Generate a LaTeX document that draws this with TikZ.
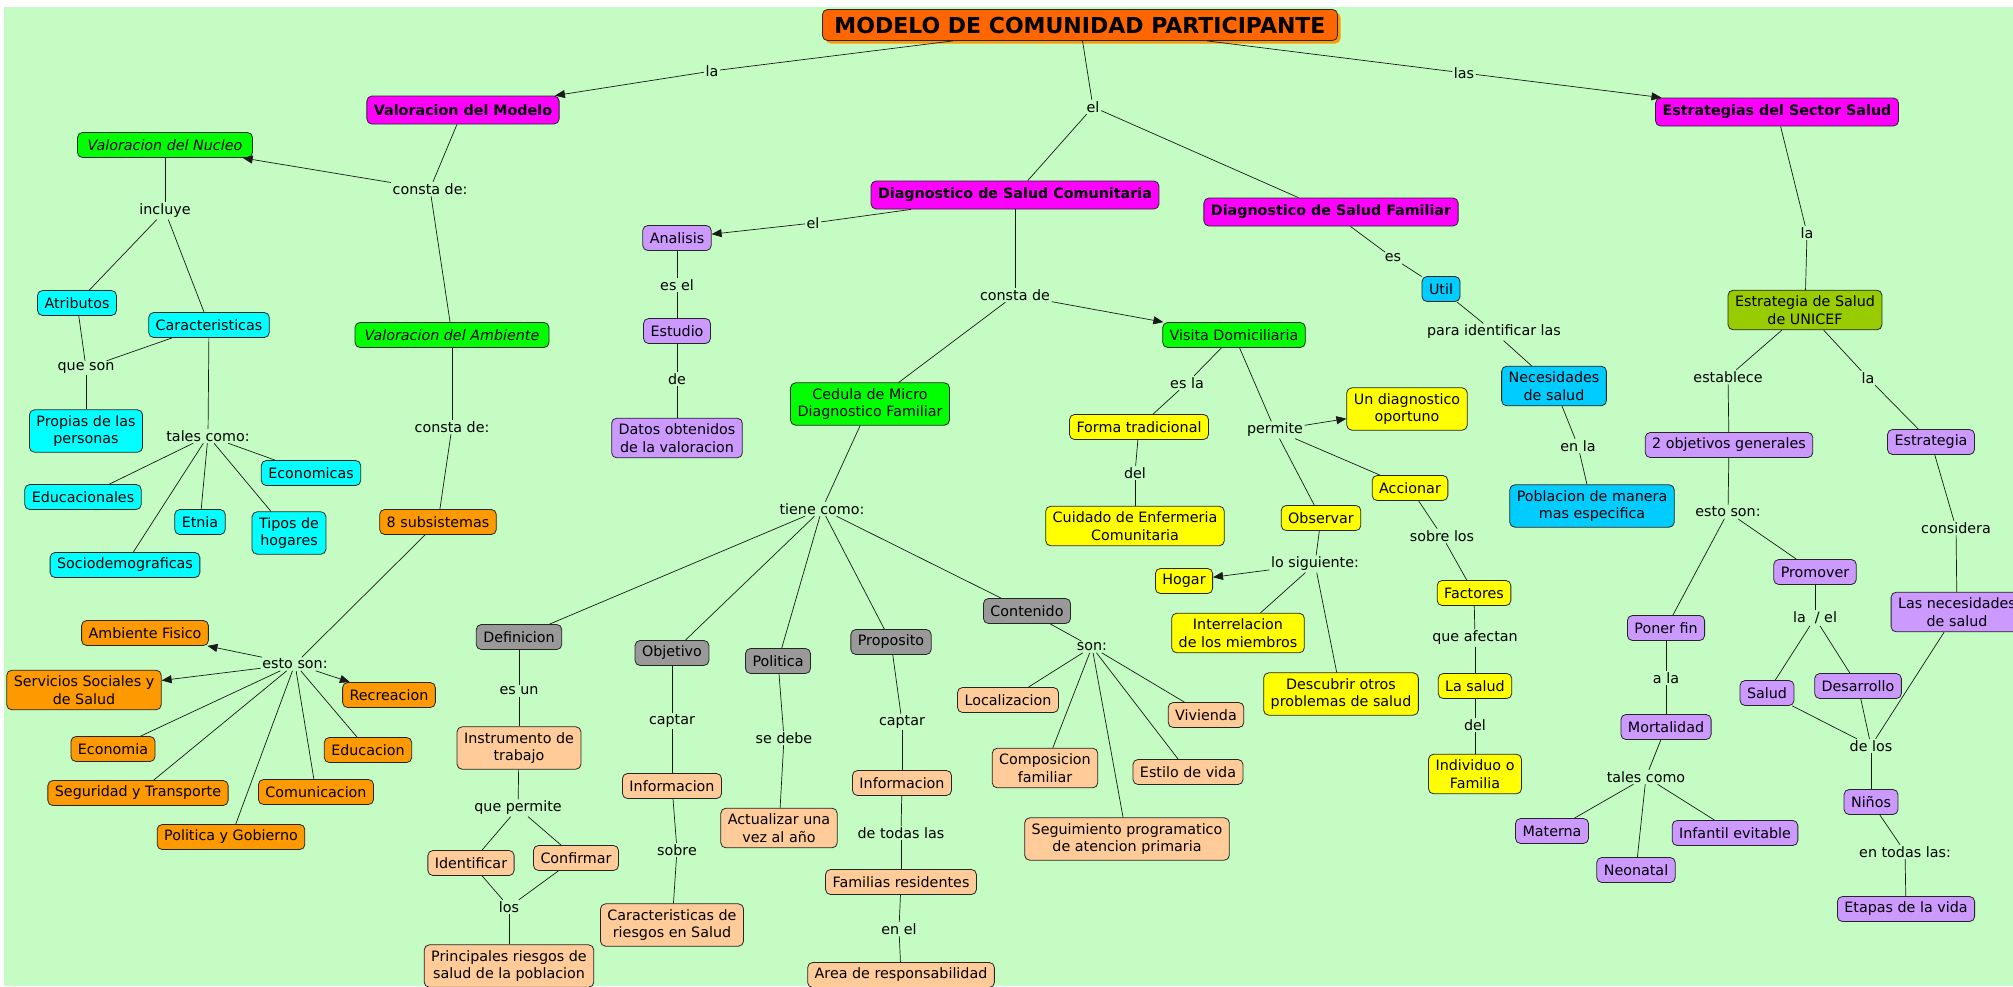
\documentclass[tikz,border=0pt]{standalone}
\usepackage{fontspec}
\setmainfont{DejaVu Sans}
\usetikzlibrary{arrows.meta,shadows}
\definecolor{bgc}{RGB}{196,252,196}
\definecolor{cmag}{RGB}{255,0,255}
\definecolor{cgrn}{RGB}{0,255,0}
\definecolor{ccya}{RGB}{0,255,255}
\definecolor{cblu}{RGB}{0,204,255}
\definecolor{cpur}{RGB}{204,153,255}
\definecolor{coli}{RGB}{153,204,0}
\definecolor{cora}{RGB}{255,153,0}
\definecolor{cgry}{RGB}{153,153,153}
\definecolor{cpch}{RGB}{255,204,153}
\definecolor{cyel}{RGB}{255,255,0}
\definecolor{ctit}{RGB}{255,102,0}
\definecolor{cshd}{RGB}{255,153,0}
\newcommand\myfs{\fontsize{14.3}{17.5}\selectfont}
\begin{document}
\begin{tikzpicture}[x=1pt,y=-1pt,
  cc/.style={draw=black!85, line width=0.8pt, rounded corners=5pt, inner xsep=7pt, inner ysep=5.5pt, minimum height=25pt, align=center, font=\myfs},
  mag/.style={cc, fill=cmag, font=\myfs\bfseries, minimum height=28pt},
  grn/.style={cc, fill=cgrn},
  grni/.style={cc, fill=cgrn, font=\myfs\itshape},
  cya/.style={cc, fill=ccya},
  blu/.style={cc, fill=cblu},
  pur/.style={cc, fill=cpur},
  oli/.style={cc, fill=coli},
  ora/.style={cc, fill=cora},
  gry/.style={cc, fill=cgry},
  pch/.style={cc, fill=cpch},
  yel/.style={cc, fill=cyel},
  lab/.style={inner sep=1.5pt, font=\myfs},
  ln/.style={draw=black!90, line width=0.7pt},
  ar/.style={ln, -{Triangle[length=10pt,width=8pt]}}
]
\useasboundingbox (0,0) rectangle (2013,986);
\fill[bgc] (4,7) rectangle (2013,986);

% title
\node[cc, fill=ctit, font=\fontsize{22}{24}\selectfont\bfseries, minimum width=515pt, minimum height=31pt,
  drop shadow={shadow xshift=3pt, shadow yshift=-3pt, fill=cshd, opacity=1}] (T) at (1080,25) {MODELO DE COMUNIDAD PARTICIPANTE};

% magenta
\node[mag] (VM) at (463,110) {Valoracion del Modelo};
\node[mag] (DSC) at (1015,195) {Diagnostico de Salud Comunitaria};
\node[mag] (DSF) at (1331,212) {Diagnostico de Salud Familiar};
\node[mag] (ESS) at (1777,112) {Estrategias del Sector Salud};

% green
\node[grni, minimum width=175pt] (VN) at (165,145) {Valoracion del Nucleo};
\node[grni, minimum width=194pt] (VA) at (452,335) {Valoracion del Ambiente};
\node[grn] (Ced) at (870,404) {Cedula de Micro\\Diagnostico Familiar};
\node[grn] (Vis) at (1234,335) {Visita Domiciliaria};

% cyan
\node[cya] (Atr) at (77,303) {Atributos};
\node[cya] (Car) at (209,325) {Caracteristicas};
\node[cya] (Prop) at (86,431) {Propias de las\\personas};
\node[cya] (Eco) at (311,473) {Economicas};
\node[cya] (Edu) at (83,497) {Educacionales};
\node[cya] (Etn) at (200,522) {Etnia};
\node[cya] (Tip) at (289,533) {Tipos de\\hogares};
\node[cya] (Soc) at (125,565) {Sociodemograficas};

% blue
\node[blu] (Uti) at (1441,289) {Util};
\node[blu] (Nec) at (1554,386) {Necesidades\\de salud};
\node[blu] (Pob) at (1592,506) {Poblacion de manera\\mas especifica};

% purple
\node[pur] (Ana) at (677,238) {Analisis};
\node[pur] (Estu) at (677,331) {Estudio};
\node[pur] (Dat) at (677,438) {Datos obtenidos\\de la valoracion};
\node[pur] (Obj2) at (1729,445) {2 objetivos generales};
\node[pur] (Estr) at (1931,442) {Estrategia};
\node[pur] (Necs) at (1957,612) {Las necesidades\\de salud};
\node[pur] (Pon) at (1666,628) {Poner fin};
\node[pur] (Pro) at (1815,572) {Promover};
\node[pur] (Sal) at (1767,693) {Salud};
\node[pur] (Des) at (1858,686) {Desarrollo};
\node[pur] (Mor) at (1666,727) {Mortalidad};
\node[pur] (Nin) at (1871,802) {Niños};
\node[pur] (Mat) at (1552,831) {Materna};
\node[pur] (Inf) at (1735,833) {Infantil evitable};
\node[pur] (Neo) at (1636,870) {Neonatal};
\node[pur] (Eta) at (1906,909) {Etapas de la vida};

% olive
\node[oli] (Uni) at (1805,310) {Estrategia de Salud\\de UNICEF};

% orange
\node[ora] (Sub) at (438,522) {8 subsistemas};
\node[ora] (Amb) at (145,633) {Ambiente Fisico};
\node[ora] (Ser) at (84,690) {Servicios Sociales y\\de Salud};
\node[ora] (Rec) at (389,695) {Recreacion};
\node[ora] (Ecn) at (113,749) {Economia};
\node[ora] (Edc) at (368,750) {Educacion};
\node[ora] (Seg) at (138,793) {Seguridad y Transporte};
\node[ora] (Com) at (316,792) {Comunicacion};
\node[ora] (Pol) at (231,837) {Politica y Gobierno};

% gray
\node[gry] (Def) at (519,637) {Definicion};
\node[gry] (Obj) at (672,653) {Objetivo};
\node[gry] (Plt) at (778,661) {Politica};
\node[gry] (Prp) at (891,642) {Proposito};
\node[gry] (Con) at (1027,611) {Contenido};

% peach
\node[pch] (Ins) at (519,748) {Instrumento de\\trabajo};
\node[pch] (Ide) at (471,863) {Identificar};
\node[pch] (Cnf) at (576,858) {Confirmar};
\node[pch] (Pri) at (509,966) {Principales riesgos de\\salud de la poblacion};
\node[pch] (In1) at (672,786) {Informacion};
\node[pch] (CaR) at (672,925) {Caracteristicas de\\riesgos en Salud};
\node[pch] (Act) at (779,828) {Actualizar una\\vez al año};
\node[pch] (In2) at (902,783) {Informacion};
\node[pch] (Fam) at (901,882) {Familias residentes};
\node[pch] (Are) at (901,975) {Area de responsabilidad};
\node[pch] (Loc) at (1008,700) {Localizacion};
\node[pch] (Viv) at (1206,715) {Vivienda};
\node[pch] (Cmp) at (1045,768) {Composicion\\familiar};
\node[pch] (Est) at (1188,772) {Estilo de vida};
\node[pch] (Sgp) at (1127,839) {Seguimiento programatico\\de atencion primaria};

% yellow
\node[yel] (For) at (1139,427) {Forma tradicional};
\node[yel] (Cui) at (1135,526) {Cuidado de Enfermeria\\Comunitaria};
\node[yel] (Und) at (1407,409) {Un diagnostico\\oportuno};
\node[yel] (Acc) at (1410,488) {Accionar};
\node[yel] (Obs) at (1321,518) {Observar};
\node[yel] (Hog) at (1184,581) {Hogar};
\node[yel] (Int) at (1238,633) {Interrelacion\\de los miembros};
\node[yel] (Dsc) at (1341,694) {Descubrir otros\\problemas de salud};
\node[yel] (Fac) at (1474,593) {Factores};
\node[yel] (Las) at (1475,686) {La salud};
\node[yel] (Ind) at (1475,774) {Individuo o\\Familia};

% linking phrases
\node[lab] (l1) at (712,71) {la};
\node[lab] (l2) at (1093,107) {el};
\node[lab] (l3) at (1464,73) {las};
\node[lab] (l4) at (430,189) {consta de:};
\node[lab] (l5) at (165,211) {incluye};
\node[lab] (l6) at (86,368) {que son};
\node[lab] (l7) at (208,436) {tales como:};
\node[lab] (l8) at (452,427) {consta de:};
\node[lab] (l9) at (295,664) {esto son:};
\node[lab] (l10) at (813,223) {el};
\node[lab] (l11) at (677,285) {es el};
\node[lab] (l12) at (677,379) {de};
\node[lab] (l13) at (1015,295) {consta de};
\node[lab] (l14) at (822,509) {tiene como:};
\node[lab] (l15) at (519,691) {es un};
\node[lab] (l16) at (518,808) {que permite};
\node[lab] (l17) at (509,907) {los};
\node[lab] (l18) at (672,721) {captar};
\node[lab] (l19) at (677,850) {sobre};
\node[lab] (l20) at (784,738) {se debe};
\node[lab] (l21) at (902,722) {captar};
\node[lab] (l22) at (901,833) {de todas las};
\node[lab] (l23) at (899,929) {en el};
\node[lab] (l24) at (1092,647) {son:};
\node[lab] (l25) at (1187,383) {es la};
\node[lab] (l26) at (1135,473) {del};
\node[lab] (l27) at (1275,430) {permite};
\node[lab] (l28) at (1315,564) {lo siguiente:};
\node[lab] (l29) at (1442,536) {sobre los};
\node[lab] (l30) at (1475,638) {que afectan};
\node[lab] (l31) at (1475,725) {del};
\node[lab] (l32) at (1393,258) {es};
\node[lab] (l33) at (1494,332) {para identificar las};
\node[lab] (l34) at (1578,446) {en la};
\node[lab] (l35) at (1807,233) {la};
\node[lab] (l36) at (1728,377) {establece};
\node[lab] (l37) at (1868,378) {la};
\node[lab] (l38) at (1728,512) {esto son:};
\node[lab] (l39) at (1956,528) {considera};
\node[lab] (l40) at (1666,678) {a la};
\node[lab] (l41) at (1815,618) {la~~/ el};
\node[lab] (l42) at (1646,777) {tales como};
\node[lab] (l43) at (1871,746) {de los};
\node[lab] (l44) at (1905,852) {en todas las:};

% connectors
\draw[ln] (T) -- (l1); \draw[ar] (l1) -- (VM);
\draw[ln] (T) -- (l2); \draw[ln] (l2) -- (DSC); \draw[ln] (l2) -- (DSF);
\draw[ln] (T) -- (l3); \draw[ar] (l3) -- (ESS);
\draw[ln] (VM) -- (l4); \draw[ar] (l4) -- (VN); \draw[ln] (l4) -- (VA);
\draw[ln] (VN) -- (l5); \draw[ln] (l5) -- (Atr); \draw[ln] (l5) -- (Car);
\draw[ln] (Atr) -- (l6); \draw[ln] (Car) -- (l6); \draw[ln] (l6) -- (Prop);
\draw[ln] (Car) -- (l7);
\foreach \n in {Edu,Soc,Etn,Tip,Eco} \draw[ln] (l7) -- (\n);
\draw[ln] (VA) -- (l8); \draw[ln] (l8) -- (Sub);
\draw[ln] (Sub) -- (l9);
\foreach \n in {Amb,Ser,Rec} \draw[ar] (l9) -- (\n);
\foreach \n in {Ecn,Seg,Pol,Com,Edc} \draw[ln] (l9) -- (\n);
\draw[ln] (DSC) -- (l10); \draw[ar] (l10) -- (Ana);
\draw[ln] (Ana) -- (l11); \draw[ln] (l11) -- (Estu);
\draw[ln] (Estu) -- (l12); \draw[ln] (l12) -- (Dat);
\draw[ln] (DSC) -- (l13); \draw[ln] (l13) -- (Ced); \draw[ar] (l13) -- (Vis);
\draw[ln] (Ced) -- (l14);
\foreach \n in {Def,Obj,Plt,Prp,Con} \draw[ln] (l14) -- (\n);
\draw[ln] (Def) -- (l15); \draw[ln] (l15) -- (Ins);
\draw[ln] (Ins) -- (l16); \draw[ln] (l16) -- (Ide); \draw[ln] (l16) -- (Cnf);
\draw[ln] (Ide) -- (l17); \draw[ln] (Cnf) -- (l17); \draw[ln] (l17) -- (Pri);
\draw[ln] (Obj) -- (l18); \draw[ln] (l18) -- (In1);
\draw[ln] (In1) -- (l19); \draw[ln] (l19) -- (CaR);
\draw[ln] (Plt) -- (l20); \draw[ln] (l20) -- (Act);
\draw[ln] (Prp) -- (l21); \draw[ln] (l21) -- (In2);
\draw[ln] (In2) -- (l22); \draw[ln] (l22) -- (Fam);
\draw[ln] (Fam) -- (l23); \draw[ln] (l23) -- (Are);
\draw[ln] (Con) -- (l24);
\foreach \n in {Loc,Cmp,Sgp,Est,Viv} \draw[ln] (l24) -- (\n);
\draw[ln] (Vis) -- (l25); \draw[ln] (l25) -- (For);
\draw[ln] (For) -- (l26); \draw[ln] (l26) -- (Cui);
\draw[ln] (Vis) -- (l27); \draw[ar] (l27) -- (Und); \draw[ln] (l27) -- (Acc); \draw[ln] (l27) -- (Obs);
\draw[ln] (Obs) -- (l28); \draw[ar] (l28) -- (Hog); \draw[ln] (l28) -- (Int); \draw[ln] (l28) -- (Dsc);
\draw[ln] (Acc) -- (l29); \draw[ln] (l29) -- (Fac);
\draw[ln] (Fac) -- (l30); \draw[ln] (l30) -- (Las);
\draw[ln] (Las) -- (l31); \draw[ln] (l31) -- (Ind);
\draw[ln] (DSF) -- (l32); \draw[ln] (l32) -- (Uti);
\draw[ln] (Uti) -- (l33); \draw[ln] (l33) -- (Nec);
\draw[ln] (Nec) -- (l34); \draw[ln] (l34) -- (Pob);
\draw[ln] (ESS) -- (l35); \draw[ln] (l35) -- (Uni);
\draw[ln] (Uni) -- (l36); \draw[ln] (l36) -- (Obj2);
\draw[ln] (Uni) -- (l37); \draw[ln] (l37) -- (Estr);
\draw[ln] (Obj2) -- (l38); \draw[ln] (l38) -- (Pon); \draw[ln] (l38) -- (Pro);
\draw[ln] (Estr) -- (l39); \draw[ln] (l39) -- (Necs); \draw[ln] (Necs) -- (l43);
\draw[ln] (Pon) -- (l40); \draw[ln] (l40) -- (Mor);
\draw[ln] (Mor) -- (l42);
\foreach \n in {Mat,Neo,Inf} \draw[ln] (l42) -- (\n);
\draw[ln] (Pro) -- (l41); \draw[ln] (l41) -- (Sal); \draw[ln] (l41) -- (Des);
\draw[ln] (Sal) -- (l43); \draw[ln] (Des) -- (l43);
\draw[ln] (l43) -- (Nin); \draw[ln] (Nin) -- (l44); \draw[ln] (l44) -- (Eta);
\end{tikzpicture}
\end{document}
